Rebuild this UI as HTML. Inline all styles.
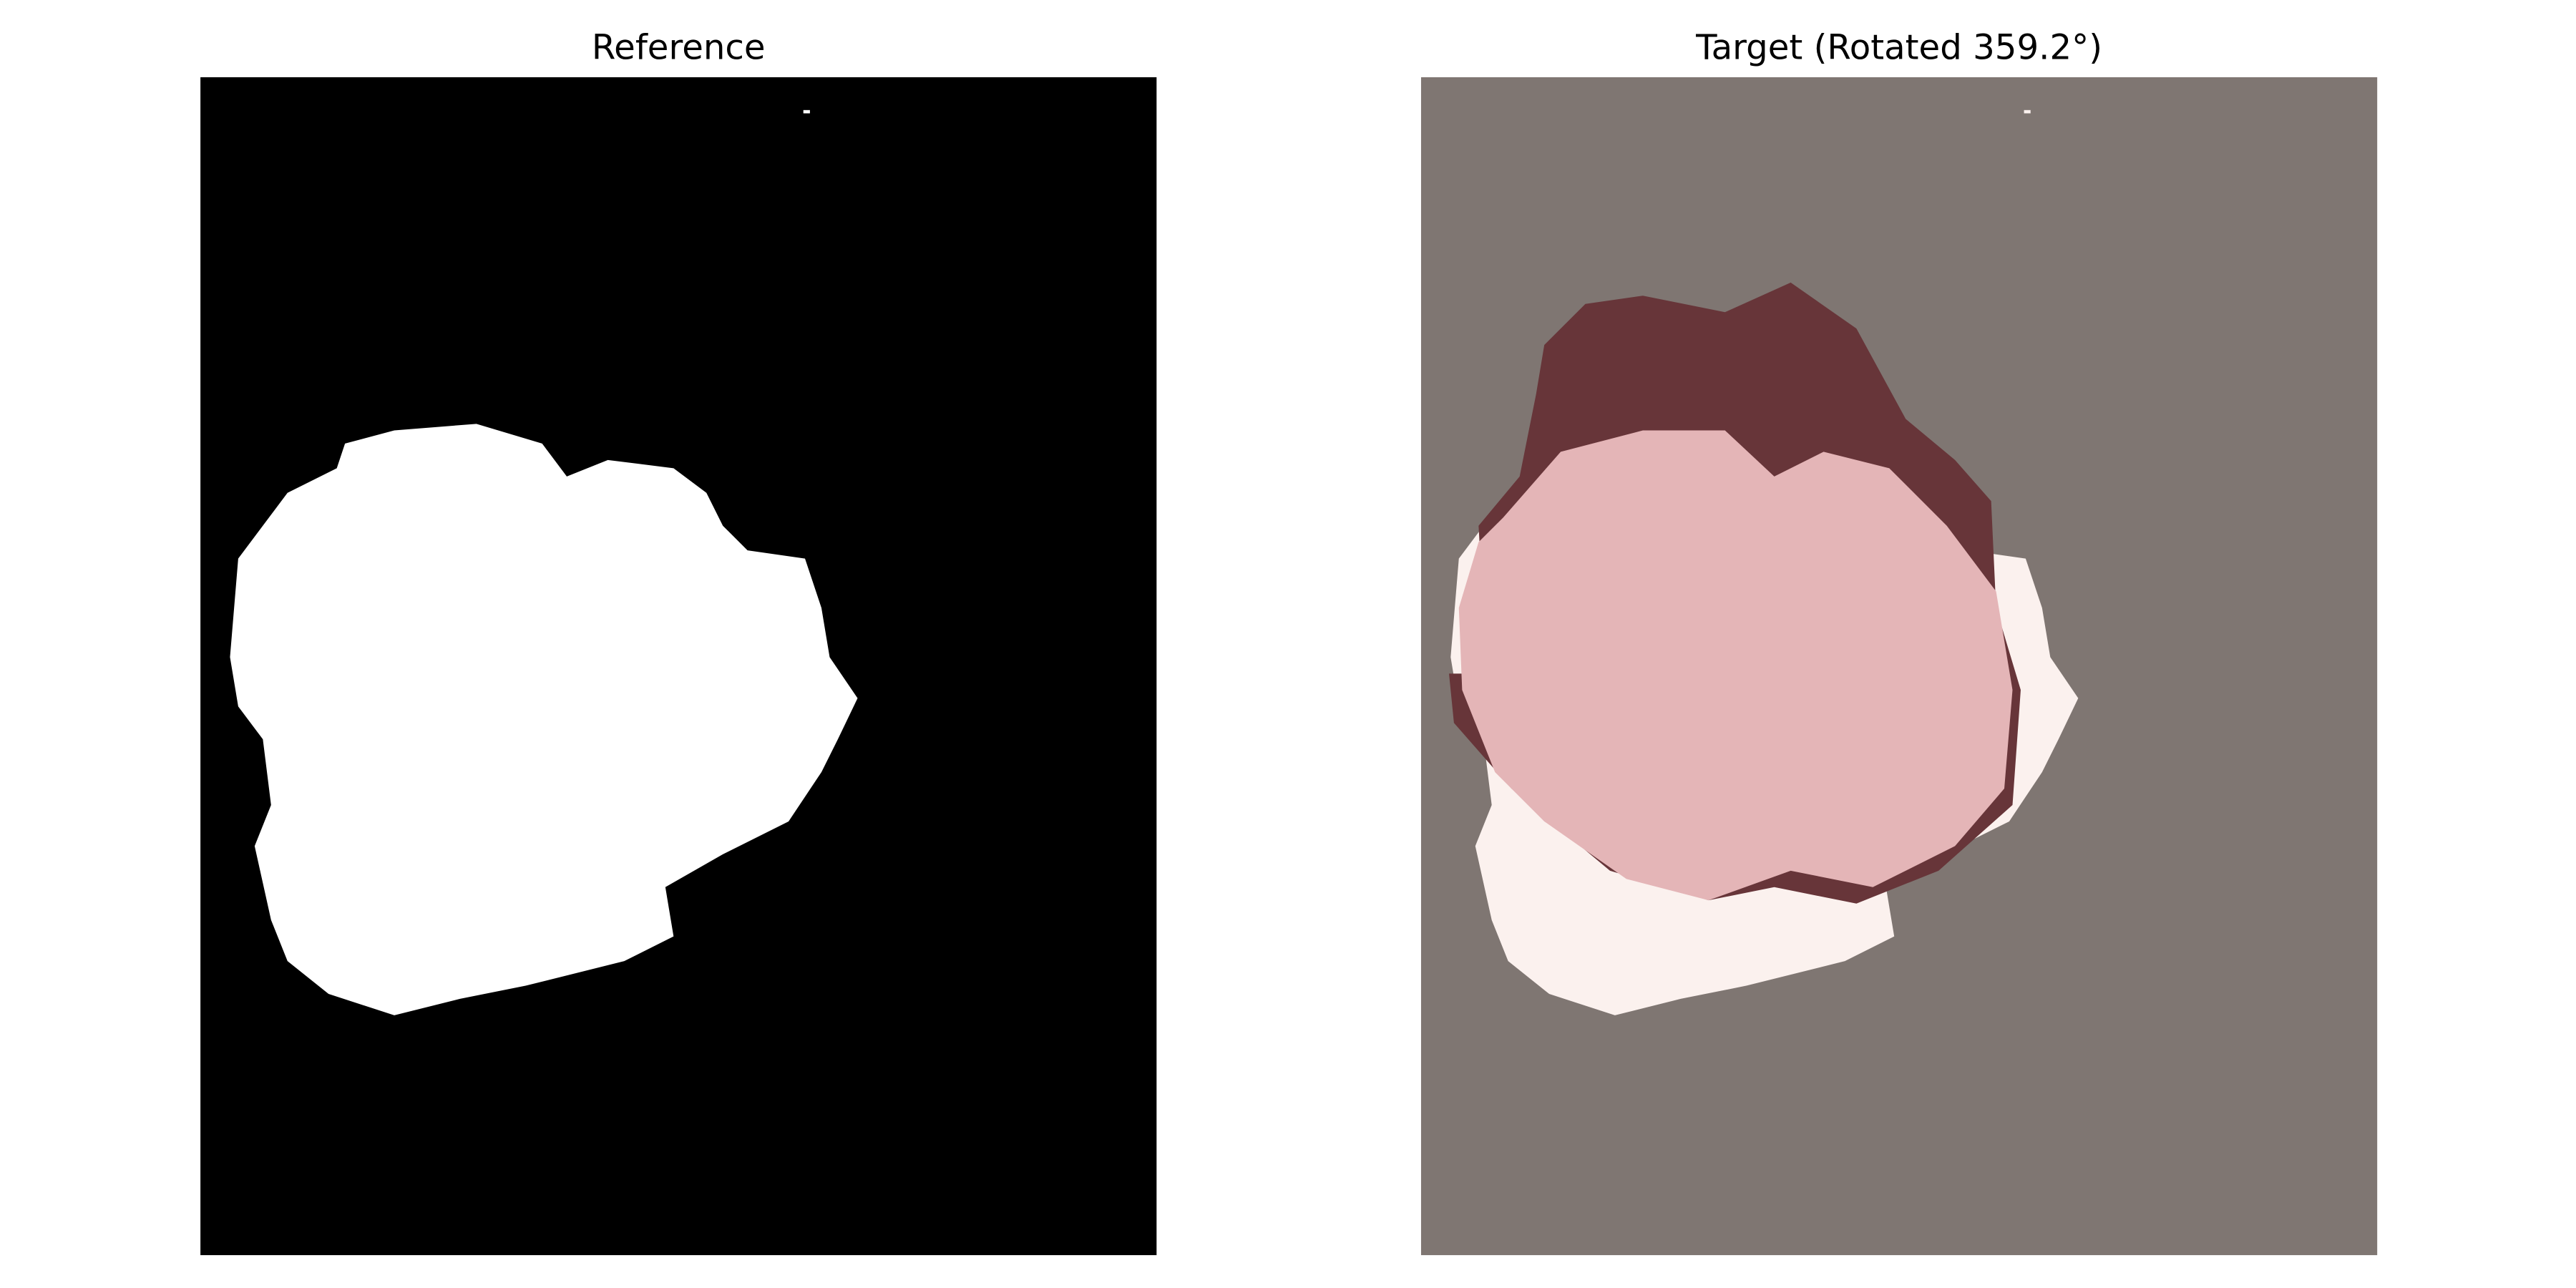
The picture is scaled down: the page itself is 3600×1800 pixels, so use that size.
<!DOCTYPE html>
<html><head><meta charset="utf-8"><style>
html,body{margin:0;padding:0;background:#fff}
svg{display:block}
text{font-family:"DejaVu Sans","Liberation Sans",sans-serif}
</style></head><body>
<svg width="3600" height="1800" viewBox="0 0 1568 784">
<text x="413" y="36" font-size="21" text-anchor="middle" fill="#000">Reference</text>
<text x="1156" y="36" font-size="21" text-anchor="middle" fill="#000">Target (Rotated 359.2°)</text>

<g>
<rect x="122" y="47" width="582" height="717" fill="#000"/>
<path fill="#fff" d="M210,270 L240,262 L290,258 L330,270 L345,290 L370,280 L410,285 L430,300 L440,320 L455,335 L490,340 L500,370 L505,400 L522,425 L510,450 L500,470 L480,500 L440,520 L405,540 L410,570 L380,585 L320,600 L280,608 L240,618 L200,605 L175,585 L165,560 L155,515 L165,490 L160,450 L145,430 L140,400 L145,340 L175,300 L205,285 Z"/>
<rect x="489" y="67" width="4" height="2" fill="#fff"/>
</g>

<g>
<rect x="865" y="47" width="582" height="717" fill="#7f7672"/>
<path fill="#fbf1ee" d="M953,270 L983,262 L1033,258 L1073,270 L1088,290 L1113,280 L1153,285 L1173,300 L1183,320 L1198,335 L1233,340 L1243,370 L1248,400 L1265,425 L1253,450 L1243,470 L1223,500 L1183,520 L1148,540 L1153,570 L1123,585 L1063,600 L1023,608 L983,618 L943,605 L918,585 L908,560 L898,515 L908,490 L903,450 L888,430 L883,400 L888,340 L918,300 L948,285 Z"/>
<path fill="#673539" d="M940,210 L965,185 L1000,180 L1050,190 L1090,172 L1130,200 L1160,255 L1190,280 L1212,305 L1215,370 L1230,420 L1225,490 L1180,530 L1130,550 L1080,540 L1040,548 L980,530 L920,480 L885,440 L882,410 L905,410 L900,320 L925,290 L935,240 Z"/>
<path fill="#e4b5b7" d="M915,315 L950,275 L1000,262 L1050,262 L1080,290 L1110,275 L1150,285 L1185,320 L1215,360 L1225,420 L1220,480 L1190,515 L1140,540 L1090,530 L1040,548 L990,535 L940,500 L910,470 L890,420 L888,370 L900,330 Z"/>
<rect x="1232" y="67" width="4" height="2" fill="#fbf1ee"/>
</g>
</svg>
</body></html>
